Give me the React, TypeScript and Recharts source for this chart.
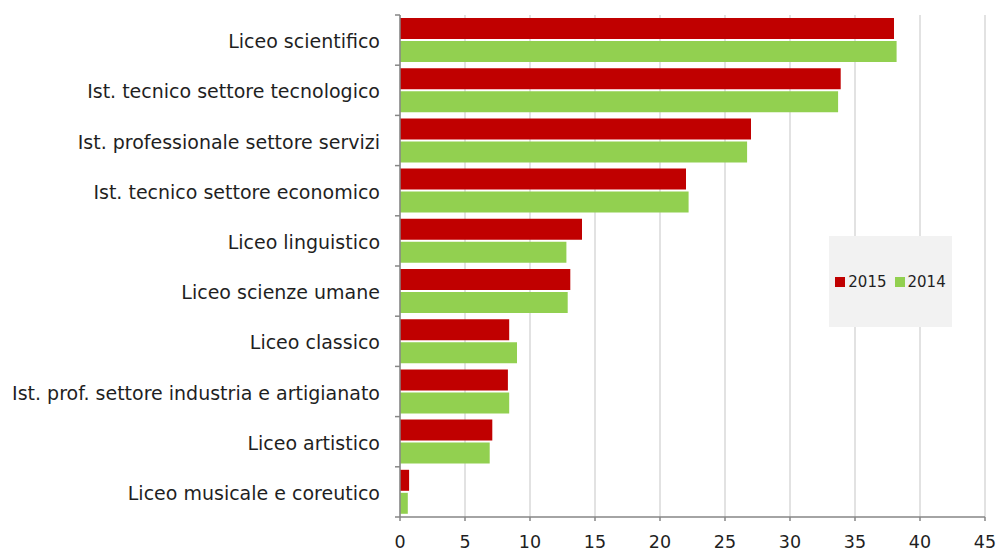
import React from 'react';
import { BarChart, Bar, XAxis, YAxis, CartesianGrid } from 'recharts';

const categories = [
  'Liceo scientifico',
  'Ist. tecnico settore tecnologico',
  'Ist. professionale settore servizi',
  'Ist. tecnico settore economico',
  'Liceo linguistico',
  'Liceo scienze umane',
  'Liceo classico ',
  'Ist. prof. settore industria e artigianato',
  'Liceo artistico',
  'Liceo musicale e coreutico',
];
const values2015 = [38.0, 33.9, 27.0, 22.0, 14.0, 13.1, 8.4, 8.3, 7.1, 0.7];
const values2014 = [38.2, 33.7, 26.7, 22.2, 12.8, 12.9, 9.0, 8.4, 6.9, 0.6];
const xTicks = [0, 5, 10, 15, 20, 25, 30, 35, 40, 45];
const seriesNames = ['2015', '2014'];

const data = categories.map((name, i) => ({ name, y2015: values2015[i], y2014: values2014[i] }));

const W = 997;
const H = 551;
const M = { top: 15, right: 12, left: 0, bottom: 0 };
const X_AXIS_H = 34;
const Y_AXIS_W = 400;
const BAND = (H - M.top - M.bottom - X_AXIS_H) / categories.length;
const FONT = '"DejaVu Sans", sans-serif';
const RED = '#C00000';
const GREEN = '#92D050';
const AXIS = '#868686';
const TEXT = '#1f1f1f';

const YTick = (props: any) => {
  const { x, y, payload, index } = props;
  const ax = x + 20;
  return (
    <g>
      <line x1={ax - 5} x2={ax} y1={y - BAND / 2} y2={y - BAND / 2} stroke={AXIS} strokeWidth={1.5} />
      {index === categories.length - 1 && (
        <line x1={ax - 5} x2={ax} y1={y + BAND / 2} y2={y + BAND / 2} stroke={AXIS} strokeWidth={1.5} />
      )}
      <text x={x} y={y + 1} textAnchor="end" dominantBaseline="central" fill={TEXT} fontSize={19} fontFamily={FONT}>
        {payload.value}
      </text>
    </g>
  );
};

const LegendBox = () => (
  <div style={{ position: 'absolute', left: 829, top: 236, width: 123, height: 91, background: '#F2F2F2', display: 'flex', alignItems: 'center', justifyContent: 'center', fontFamily: FONT, fontSize: 15, color: TEXT }}>
    <span style={{ display: 'inline-block', width: 10, height: 10, background: RED, marginRight: 3 }} />
    <span style={{ marginRight: 8 }}>{seriesNames[0]}</span>
    <span style={{ display: 'inline-block', width: 10, height: 10, background: GREEN, marginRight: 3 }} />
    <span>{seriesNames[1]}</span>
  </div>
);

export default function App() {
  return (
    <div style={{ position: 'absolute', left: 0, top: 0, width: W, height: H, background: '#fff' }}>
      <BarChart width={W} height={H} data={data} layout="vertical" margin={M} barSize={21} barGap={2}>
        <CartesianGrid horizontal={false} stroke="#D9D9D9" strokeWidth={1.5} />
        <XAxis
          type="number"
          domain={[0, 45]}
          ticks={xTicks}
          height={X_AXIS_H}
          stroke={AXIS}
          strokeWidth={1.5}
          tickSize={4}
          tickMargin={15}
          tick={{ fill: TEXT, fontSize: 17.5, fontFamily: FONT }}
          interval={0}
        />
        <YAxis
          type="category"
          dataKey="name"
          width={Y_AXIS_W}
          stroke={AXIS}
          strokeWidth={1.5}
          tickLine={false}
          tickSize={0}
          tickMargin={20}
          tick={<YTick />}
          interval={0}
        />
        <Bar dataKey="y2015" name={seriesNames[0]} fill={RED} isAnimationActive={false} />
        <Bar dataKey="y2014" name={seriesNames[1]} fill={GREEN} isAnimationActive={false} />
      </BarChart>
      <LegendBox />
    </div>
  );
}
